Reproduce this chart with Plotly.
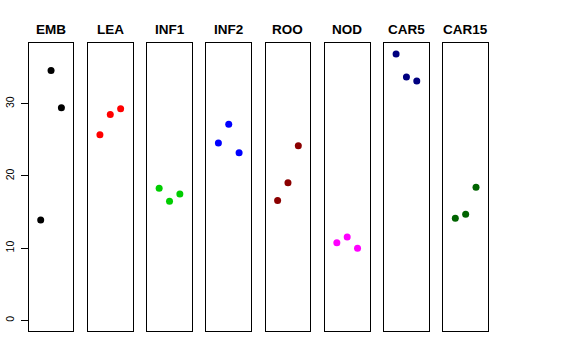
import plotly.graph_objects as go

categories = ["EMB", "LEA", "INF1", "INF2", "ROO", "NOD", "CAR5", "CAR15"]
colors = ["#000000", "#FF0000", "#00CD00", "#0000FF", "#8B0000", "#FF00FF", "#000080", "#006400"]
positions = [1, 2, 3]
emb = [13.9, 34.6, 29.45]
lea = [25.7, 28.5, 29.3]
inf1 = [18.3, 16.5, 17.5]
inf2 = [24.55, 27.15, 23.2]
roo = [16.6, 19.05, 24.2]
nod = [10.75, 11.55, 10.0]
car5 = [36.9, 33.7, 33.15]
car15 = [14.15, 14.7, 18.45]
series = [emb, lea, inf1, inf2, roo, nod, car5, car15]
y_ticks = [0, 10, 20, 30]

W, H = 576, 360
left0, step, pw = 28.7, 59.23, 44.7
top, bottom = 43.3, 331.0
ymax = max(max(s) for s in series)
yr = [0 - 0.04 * ymax, ymax * 1.04]
xr = [0 - 0.04 * 4, 4 * 1.04]

fig = go.Figure()
layout = dict(
    width=W, height=H, margin=dict(l=0, r=0, t=0, b=0), autosize=False,
    paper_bgcolor="white", plot_bgcolor="white", showlegend=False,
    font=dict(family="Liberation Sans, Arial, Helvetica, sans-serif", color="black"),
)
annotations = []
for i, (cat, col, vals) in enumerate(zip(categories, colors, series)):
    n = "" if i == 0 else str(i + 1)
    fig.add_trace(go.Scatter(
        x=positions, y=vals, mode="markers",
        marker=dict(color=col, size=7, line=dict(width=0)),
        xaxis="x" + n, yaxis="y" + n, hoverinfo="x+y",
    ))
    x0 = (left0 + i * step) / W
    x1 = (left0 + i * step + pw) / W
    layout["xaxis" + n] = dict(
        domain=[x0, x1], range=xr, showgrid=False, zeroline=False,
        showticklabels=False, ticks="", showline=True, mirror=True,
        linecolor="black", linewidth=1, anchor="y" + n, fixedrange=True,
        automargin=False,
    )
    ya = dict(
        domain=[1 - bottom / H, 1 - top / H], range=yr, showgrid=False, zeroline=False,
        showline=True, mirror=True, linecolor="black", linewidth=1,
        anchor="x" + n, fixedrange=True, automargin=False,
    )
    if i == 0:
        ya.update(tickvals=y_ticks, ticktext=[str(t) for t in y_ticks], ticks="outside",
                  ticklen=7, tickcolor="black", tickwidth=1, tickangle=-90,
                  tickfont=dict(size=10.5, color="black"), ticklabelstandoff=3)
    else:
        ya.update(showticklabels=False, ticks="")
    layout["yaxis" + n] = ya
    annotations.append(dict(
        text="<b>" + cat + "</b>", x=(x0 + x1) / 2, y=1 - 29.5 / H,
        xref="paper", yref="paper", showarrow=False, xanchor="center", yanchor="middle",
        font=dict(size=13.5, color="black"),
    ))
layout["annotations"] = annotations
fig.update_layout(**layout)
fig.write_html("out.html", config={"displayModeBar": False},
               post_script="document.body.style.margin='0';document.body.style.padding='0';")
